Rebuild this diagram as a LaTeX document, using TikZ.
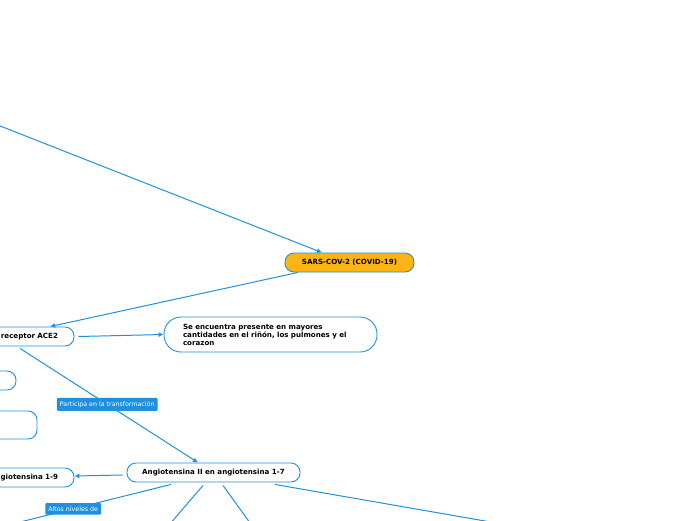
\documentclass[tikz,border=0pt]{standalone}
\usepackage{fontspec}
\setsansfont{DejaVu Sans}
\usetikzlibrary{arrows.meta}
\definecolor{mapblue}{RGB}{30,144,224}
\definecolor{mainorange}{RGB}{253,181,21}
\tikzset{%
  >={Latex[width=5pt,length=5pt]},
  % Estilos de los nodos:
        base/.style = {rectangle, rounded corners=9pt, draw=mapblue,
                       line width=0.9pt, fill=white, minimum height=19pt,
                       text centered,
                       font=\sffamily\bfseries\fontsize{7.1}{8}\selectfont},
   mainTopic/.style = {base, fill=mainorange, minimum width=129pt},
       topic/.style = {base, minimum width=173pt},
    cutTopic/.style = {base, text width=118pt, align=right,
                       inner xsep=16pt},
     noteBox/.style = {base, rounded corners=17pt, text width=175pt,
                       align=left, inner xsep=19pt, minimum height=35pt},
   linkLabel/.style = {rectangle, rounded corners=1pt, fill=mapblue,
                       text=white, inner xsep=3pt, minimum height=11pt,
                       font=\sffamily\fontsize{6.3}{7}\selectfont},
     connect/.style = {draw=mapblue, line width=1pt},
}

\begin{document}
\begin{tikzpicture}[x=1pt, y=-1pt]
  \useasboundingbox (0,0) rectangle (696,520);
  % Nodos (posicion, etc.)
  \node (sars) [mainTopic] at (349.5,262.5) {SARS-COV-2 (COVID-19)};
  \node (ace2) [cutTopic] at (-1,336.5) {receptor ACE2};
  \node (presente) [noteBox] at (270.5,334.5)
    {Se encuentra presente en mayores\\ cantidades en el riñón, los pulmones y el\\ corazon};
  \node (blankA) [base, minimum width=60pt] at (-14,380.5) {};
  \node (blankB) [base, minimum width=80pt, minimum height=28pt] at (-3,425) {};
  \node (angio) [topic] at (213.5,472.5) {Angiotensina II en angiotensina 1-7};
  \node (ang19) [cutTopic] at (-1,477.5) {angiotensina 1-9};

  % Extremos libres de las lineas
  \coordinate (fromTop) at (-10,122);
  \coordinate (outA) at (8,525);
  \coordinate (outB) at (169,525);
  \coordinate (outC) at (251.5,525);
  \coordinate (outD) at (508,525);

  % Lineas entre nodos
  \draw[connect, ->] (fromTop) -- ([xshift=-27.5pt]sars.north);
  \draw[connect, ->] ([xshift=-51.5pt]sars.south) -- ([xshift=51pt]ace2.north);
  \draw[connect, ->] ([xshift=4pt]ace2.east) -- (presente.west);
  \draw[connect, ->] ([xshift=21pt, yshift=-2pt]ace2.south) --
    node[linkLabel, pos=0.49] (lblTrans) {Participa en la transformación}
    ([xshift=-15.5pt]angio.north);
  \draw[connect, ->] ([xshift=-4pt, yshift=-2.5pt]angio.west) -- ([yshift=1.5pt]ang19.east);
  \draw[connect] ([xshift=-42.5pt, yshift=-2pt]angio.south) --
    node[linkLabel, pos=0.6] (lblAltos) {Altos niveles de} (outA);
  \draw[connect] ([xshift=-10.5pt, yshift=-3pt]angio.south) -- (outB);
  \draw[connect] ([xshift=9.5pt, yshift=-3pt]angio.south) -- (outC);
  \draw[connect] ([xshift=61.5pt, yshift=-2pt]angio.south) -- (outD);
\end{tikzpicture}
\end{document}
